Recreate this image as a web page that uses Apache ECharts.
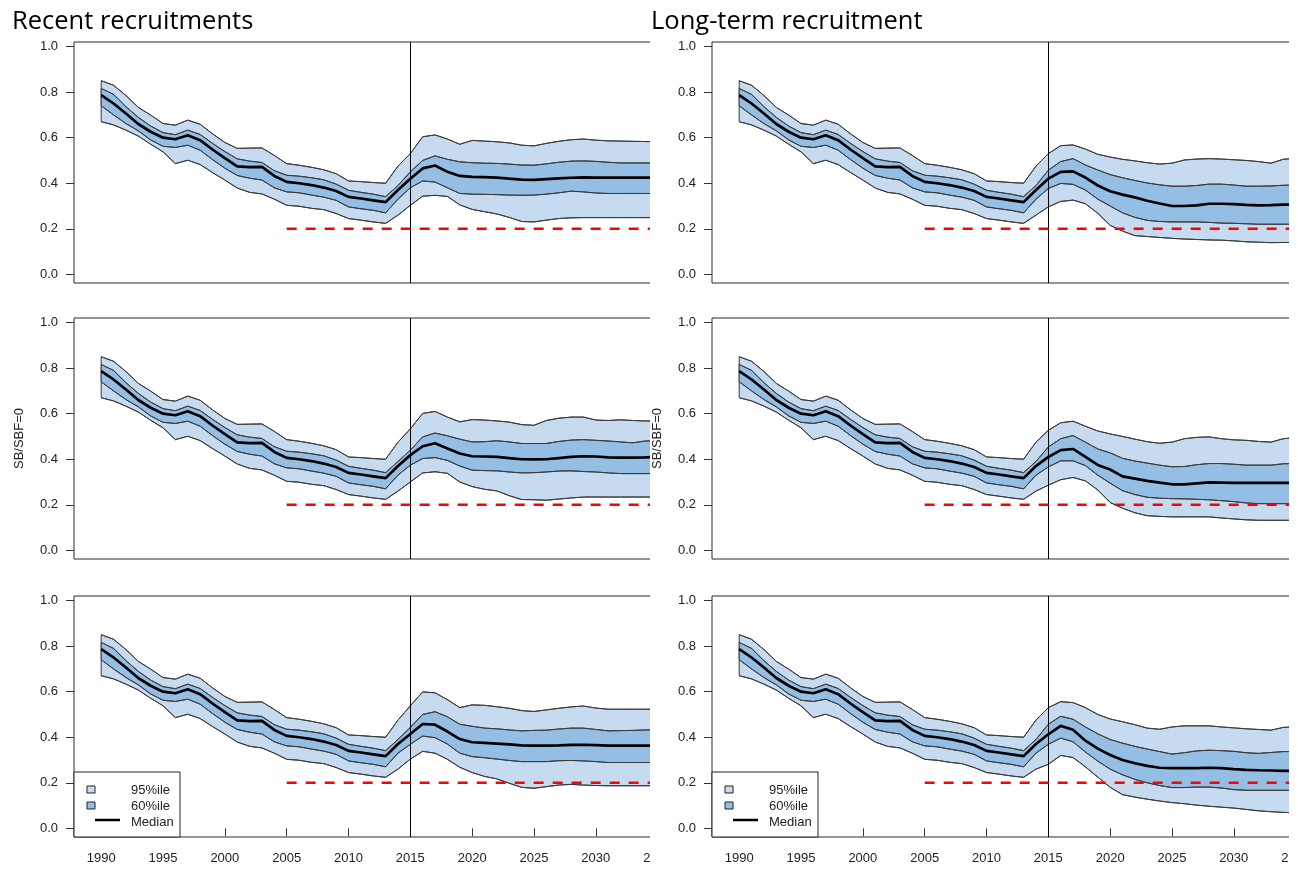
<!DOCTYPE html>
<html>
<head>
<meta charset="utf-8">
<script src="https://cdn.jsdelivr.net/npm/echarts@6/dist/echarts.min.js"></script>
<style>
  html, body { margin: 0; padding: 0; background: #fff; }
  .clip { position: absolute; top: 0; height: 871px; overflow: hidden; }
  #clipRecent { left: 0; width: 650px; }
  #clipLong { left: 650px; width: 639px; }
  .chart { position: absolute; left: 0; top: 0; width: 830px; height: 871px; }
</style>
</head>
<body>
<div class="clip" id="clipRecent"><div class="chart" id="recent"></div></div>
<div class="clip" id="clipLong"><div class="chart" id="longterm"></div></div>
<script>
// ---- years ----
const histYears = [1990,1991,1992,1993,1994,1995,1996,1997,1998,1999,2000,2001,2002,2003,2004,
                   2005,2006,2007,2008,2009,2010,2011,2012,2013,2014];
const projYears = [2015,2016,2017,2018,2019,2020,2021,2022,2023,2024,2025,2026,2027,2028,2029,
                   2030,2031,2032,2033,2034,2035,2036];

// ---- historical estimates (common to every panel) ----
const histHi95 = [0.85,0.83,0.785,0.733,0.699,0.662,0.655,0.677,0.659,0.617,0.579,0.553,0.554,0.555,0.522,0.486,0.479,0.47,0.459,0.442,0.41,0.407,0.403,0.40,0.475];
const histHi60 = [0.816,0.79,0.736,0.689,0.651,0.622,0.613,0.633,0.614,0.575,0.539,0.507,0.497,0.491,0.455,0.435,0.431,0.424,0.415,0.396,0.369,0.36,0.352,0.341,0.39];
const histMed  = [0.787,0.75,0.706,0.66,0.626,0.60,0.593,0.611,0.589,0.548,0.51,0.474,0.471,0.472,0.432,0.406,0.40,0.392,0.381,0.366,0.34,0.333,0.325,0.317,0.37];
const histLo60 = [0.74,0.70,0.662,0.63,0.59,0.562,0.557,0.567,0.545,0.504,0.466,0.434,0.422,0.414,0.38,0.362,0.358,0.348,0.339,0.325,0.296,0.288,0.281,0.27,0.33];
const histLo95 = [0.67,0.656,0.633,0.607,0.571,0.538,0.486,0.501,0.482,0.447,0.414,0.379,0.36,0.353,0.33,0.303,0.299,0.29,0.284,0.267,0.245,0.238,0.23,0.224,0.26];

// ---- projections, recent recruitments ----
const recent1Hi95 = [0.53,0.604,0.612,0.594,0.571,0.588,0.585,0.582,0.577,0.567,0.564,0.575,0.584,0.591,0.594,0.589,0.586,0.585,0.584,0.583,0.582,0.582];
const recent1Hi60 = [0.45,0.50,0.52,0.505,0.494,0.49,0.488,0.487,0.484,0.48,0.479,0.485,0.492,0.497,0.498,0.496,0.492,0.489,0.489,0.489,0.489,0.489];
const recent1Med  = [0.42,0.465,0.478,0.45,0.432,0.428,0.427,0.425,0.42,0.416,0.415,0.418,0.421,0.424,0.426,0.425,0.425,0.425,0.425,0.425,0.425,0.425];
const recent1Lo60 = [0.38,0.41,0.405,0.38,0.355,0.352,0.351,0.35,0.348,0.347,0.348,0.352,0.358,0.365,0.362,0.357,0.355,0.355,0.355,0.355,0.355,0.355];
const recent1Lo95 = [0.303,0.343,0.347,0.342,0.305,0.285,0.275,0.265,0.25,0.232,0.23,0.238,0.245,0.248,0.249,0.249,0.249,0.249,0.249,0.249,0.249,0.249];

const recent2Hi95 = [0.533,0.601,0.61,0.585,0.564,0.574,0.572,0.568,0.563,0.552,0.549,0.57,0.58,0.585,0.585,0.572,0.57,0.573,0.57,0.568,0.568,0.568];
const recent2Hi60 = [0.44,0.498,0.515,0.503,0.488,0.476,0.477,0.481,0.476,0.469,0.469,0.469,0.478,0.484,0.486,0.483,0.48,0.476,0.472,0.48,0.481,0.481];
const recent2Med  = [0.418,0.457,0.47,0.447,0.425,0.413,0.412,0.41,0.405,0.40,0.399,0.40,0.405,0.41,0.413,0.412,0.408,0.407,0.407,0.408,0.41,0.41];
const recent2Lo60 = [0.374,0.403,0.407,0.395,0.37,0.352,0.35,0.349,0.344,0.34,0.341,0.344,0.348,0.349,0.346,0.344,0.34,0.337,0.337,0.337,0.337,0.337];
const recent2Lo95 = [0.30,0.34,0.345,0.338,0.30,0.28,0.268,0.261,0.24,0.223,0.222,0.22,0.225,0.23,0.234,0.234,0.234,0.234,0.234,0.234,0.234,0.234];

const recent3Hi95 = [0.538,0.599,0.595,0.565,0.53,0.542,0.54,0.534,0.527,0.517,0.513,0.52,0.527,0.533,0.537,0.528,0.523,0.523,0.523,0.523,0.523,0.523];
const recent3Hi60 = [0.443,0.50,0.512,0.49,0.457,0.448,0.44,0.437,0.432,0.428,0.43,0.431,0.436,0.44,0.44,0.434,0.428,0.429,0.43,0.432,0.433,0.433];
const recent3Med  = [0.414,0.458,0.455,0.425,0.392,0.378,0.375,0.372,0.369,0.364,0.363,0.363,0.364,0.366,0.367,0.365,0.363,0.363,0.363,0.363,0.363,0.363];
const recent3Lo60 = [0.369,0.405,0.398,0.37,0.33,0.315,0.31,0.304,0.298,0.293,0.293,0.293,0.297,0.298,0.296,0.293,0.289,0.289,0.289,0.289,0.289,0.289];
const recent3Lo95 = [0.304,0.338,0.33,0.303,0.268,0.245,0.228,0.217,0.198,0.18,0.176,0.183,0.19,0.193,0.19,0.188,0.187,0.187,0.187,0.187,0.187,0.187];

// ---- projections, long-term recruitment ----
const long1Hi95 = [0.53,0.565,0.568,0.55,0.527,0.515,0.505,0.498,0.49,0.484,0.488,0.502,0.506,0.508,0.506,0.503,0.50,0.495,0.488,0.505,0.51,0.51];
const long1Hi60 = [0.457,0.495,0.508,0.48,0.458,0.438,0.424,0.412,0.401,0.393,0.387,0.387,0.39,0.396,0.396,0.392,0.387,0.387,0.388,0.391,0.392,0.392];
const long1Med  = [0.42,0.45,0.452,0.425,0.39,0.365,0.35,0.338,0.323,0.311,0.30,0.30,0.303,0.31,0.31,0.308,0.305,0.303,0.304,0.306,0.306,0.306];
const long1Lo60 = [0.377,0.399,0.395,0.37,0.33,0.30,0.27,0.25,0.237,0.232,0.23,0.23,0.23,0.228,0.225,0.224,0.222,0.22,0.22,0.22,0.22,0.22];
const long1Lo95 = [0.296,0.32,0.326,0.31,0.268,0.215,0.19,0.17,0.166,0.162,0.158,0.155,0.153,0.151,0.15,0.147,0.143,0.141,0.139,0.14,0.14,0.14];

const long2Hi95 = [0.527,0.56,0.567,0.545,0.524,0.511,0.50,0.488,0.477,0.47,0.475,0.49,0.496,0.498,0.49,0.485,0.483,0.478,0.475,0.49,0.495,0.495];
const long2Hi60 = [0.454,0.49,0.504,0.475,0.445,0.428,0.404,0.392,0.383,0.374,0.367,0.368,0.376,0.381,0.381,0.378,0.374,0.374,0.374,0.38,0.381,0.381];
const long2Med  = [0.41,0.44,0.445,0.41,0.375,0.355,0.325,0.315,0.305,0.297,0.29,0.29,0.294,0.298,0.297,0.296,0.296,0.296,0.296,0.296,0.296,0.296];
const long2Lo60 = [0.366,0.393,0.393,0.372,0.33,0.295,0.262,0.245,0.233,0.229,0.227,0.226,0.224,0.222,0.218,0.214,0.208,0.205,0.205,0.205,0.205,0.205];
const long2Lo95 = [0.286,0.31,0.32,0.305,0.265,0.21,0.185,0.165,0.152,0.149,0.147,0.147,0.147,0.147,0.142,0.138,0.134,0.132,0.132,0.132,0.132,0.132];

const long3Hi95 = [0.53,0.556,0.552,0.53,0.50,0.48,0.468,0.455,0.44,0.435,0.445,0.45,0.45,0.45,0.445,0.441,0.437,0.434,0.431,0.443,0.446,0.446];
const long3Hi60 = [0.457,0.492,0.479,0.445,0.415,0.39,0.374,0.36,0.348,0.337,0.326,0.332,0.34,0.343,0.341,0.338,0.332,0.329,0.333,0.337,0.337,0.337];
const long3Med  = [0.413,0.45,0.433,0.385,0.35,0.322,0.30,0.286,0.274,0.266,0.264,0.264,0.264,0.266,0.264,0.26,0.257,0.255,0.254,0.252,0.252,0.252];
const long3Lo60 = [0.369,0.396,0.38,0.335,0.295,0.26,0.235,0.215,0.20,0.188,0.179,0.179,0.181,0.181,0.177,0.17,0.167,0.167,0.167,0.167,0.167,0.167];
const long3Lo95 = [0.281,0.32,0.311,0.27,0.225,0.18,0.148,0.137,0.128,0.12,0.113,0.108,0.102,0.097,0.093,0.089,0.083,0.077,0.073,0.07,0.068,0.067];

// ---- reference levels and axis ticks ----
const limitLevel = 0.2;
const limitFrom = 2005;
const limitTo = 2047;
const currentYear = 2015;
const yTicks = [0, 0.2, 0.4, 0.6, 0.8, 1.0];
const xTicks = [1990, 1995, 2000, 2005, 2010, 2015, 2020, 2025, 2030, 2035, 2040, 2045];
const legendLabels = ['95%ile', '60%ile', 'Median'];

// ---- styling ----
const LIGHT = '#c6dbf0';
const MID = '#95bee4';
const EDGE = '#3c3c3c';
const TXT = '#222';
const FONT = 'Liberation Sans, Arial, sans-serif';
const GRID_TOPS = [42, 318, 596];
const GRID_H = 241;
const GRID_W = 732;

function pairs(hist, proj) {
  const ys = histYears.concat(projYears);
  const vs = hist.concat(proj);
  return ys.map((y, i) => [y, vs[i]]);
}

// filled band between an upper and a lower curve, drawn as one outlined polygon
function band(g, upper, lower, color, z) {
  return {
    type: 'custom', coordinateSystem: 'cartesian2d', xAxisIndex: g, yAxisIndex: g,
    silent: true, z, clip: false,
    data: [upper[0]],
    renderItem: (params, api) => {
      const pts = upper.map(p => api.coord(p))
        .concat(lower.slice().reverse().map(p => api.coord(p)));
      return { type: 'polygon', shape: { points: pts },
               style: { fill: color, stroke: EDGE, lineWidth: 1 } };
    }
  };
}

function panelSeries(g, p) {
  const hi95 = pairs(histHi95, p.hi95);
  const hi60 = pairs(histHi60, p.hi60);
  const med = pairs(histMed, p.med);
  const lo60 = pairs(histLo60, p.lo60);
  const lo95 = pairs(histLo95, p.lo95);
  const base = { type: 'line', xAxisIndex: g, yAxisIndex: g, symbol: 'none', silent: true };
  const edge = (data) => Object.assign({}, base, {
    data, z: 4, lineStyle: { color: EDGE, width: 1 }
  });
  return [
    band(g, hi95, lo95, LIGHT, 1),
    band(g, hi60, lo60, MID, 2),
    edge(lo95), edge(hi95), edge(lo60), edge(hi60),
    Object.assign({}, base, { data: med, z: 5, lineStyle: { color: '#000', width: 2.7 } }),
    Object.assign({}, base, {
      data: [[limitFrom, limitLevel], [limitTo, limitLevel]], z: 6,
      lineStyle: { color: '#ff0000', width: 2.6, type: [10, 9] },
      markLine: {
        silent: true, symbol: ['none', 'none'], label: { show: false },
        lineStyle: { color: '#000', width: 1, type: 'solid' },
        data: [{ xAxis: currentYear }]
      }
    })
  ];
}

function buildOption(title, titleLeft, gridLeft, panels) {
  const grids = [], xAxes = [], yAxes = [], series = [];
  GRID_TOPS.forEach((top, g) => {
    const last = g === GRID_TOPS.length - 1;
    grids.push({ left: gridLeft, top, width: GRID_W, height: GRID_H, show: true,
                 outerBoundsMode: 'none', containLabel: false,
                 borderColor: '#2a2a2a', borderWidth: 1, backgroundColor: 'transparent' });
    xAxes.push({
      gridIndex: g, type: 'value', min: 1987.8, max: 2047,
      splitLine: { show: false }, axisLine: { show: false },
      axisTick: { show: last, length: 8, customValues: xTicks, lineStyle: { color: '#333' } },
      axisLabel: { show: last, customValues: xTicks, formatter: v => String(v), margin: 15,
                   fontSize: 13, color: TXT, fontFamily: FONT }
    });
    yAxes.push({
      gridIndex: g, type: 'value', min: -0.038, max: 1.02,
      splitLine: { show: false }, axisLine: { show: false },
      axisTick: { show: true, length: 8, customValues: yTicks, lineStyle: { color: '#333' } },
      axisLabel: { customValues: yTicks, formatter: v => v.toFixed(1), margin: 16,
                   fontSize: 13, color: TXT, fontFamily: FONT },
      name: g === 1 ? 'SB/SBF=0' : '', nameLocation: 'middle', nameGap: 48,
      nameTextStyle: { fontSize: 13, color: TXT, fontFamily: FONT }
    });
    series.push(...panelSeries(g, panels[g]));
  });

  // legend box in the lowest panel
  const bottom = GRID_TOPS[2] + GRID_H;
  const lx = gridLeft;
  const legend = [
    { type: 'rect', z: 20, shape: { x: lx, y: bottom - 65, width: 106, height: 65 },
      style: { fill: '#fff', stroke: '#222', lineWidth: 1 } },
    { type: 'rect', z: 21, shape: { x: lx + 13, y: bottom - 51, width: 8, height: 7 },
      style: { fill: LIGHT, stroke: '#222', lineWidth: 1 } },
    { type: 'rect', z: 21, shape: { x: lx + 13, y: bottom - 35, width: 8, height: 7 },
      style: { fill: MID, stroke: '#222', lineWidth: 1 } },
    { type: 'line', z: 21, shape: { x1: lx + 21, y1: bottom - 17, x2: lx + 46, y2: bottom - 17 },
      style: { stroke: '#000', lineWidth: 2.5 } }
  ];
  legendLabels.forEach((t, i) => legend.push({
    type: 'text', z: 21, x: lx + 57, y: bottom - 47 + i * 16,
    style: { text: t, fill: TXT, font: '13px ' + FONT, textVerticalAlign: 'middle' }
  }));

  return {
    animation: false,
    backgroundColor: '#fff',
    title: { text: title, left: titleLeft, top: 9, padding: 0,
             textStyle: { fontFamily: 'Open Sans', fontSize: 25.5, fontWeight: 'normal', color: '#000' } },
    grid: grids, xAxis: xAxes, yAxis: yAxes, series, graphic: legend
  };
}

const recentPanels = [
  { hi95: recent1Hi95, hi60: recent1Hi60, med: recent1Med, lo60: recent1Lo60, lo95: recent1Lo95 },
  { hi95: recent2Hi95, hi60: recent2Hi60, med: recent2Med, lo60: recent2Lo60, lo95: recent2Lo95 },
  { hi95: recent3Hi95, hi60: recent3Hi60, med: recent3Med, lo60: recent3Lo60, lo95: recent3Lo95 }
];
const longPanels = [
  { hi95: long1Hi95, hi60: long1Hi60, med: long1Med, lo60: long1Lo60, lo95: long1Lo95 },
  { hi95: long2Hi95, hi60: long2Hi60, med: long2Med, lo60: long2Lo60, lo95: long2Lo95 },
  { hi95: long3Hi95, hi60: long3Hi60, med: long3Med, lo60: long3Lo60, lo95: long3Lo95 }
];

echarts.init(document.getElementById('recent'))
  .setOption(buildOption('Recent recruitments', 12, 74, recentPanels));
echarts.init(document.getElementById('longterm'))
  .setOption(buildOption('Long-term recruitment', 1, 62, longPanels));
</script>
</body>
</html>
